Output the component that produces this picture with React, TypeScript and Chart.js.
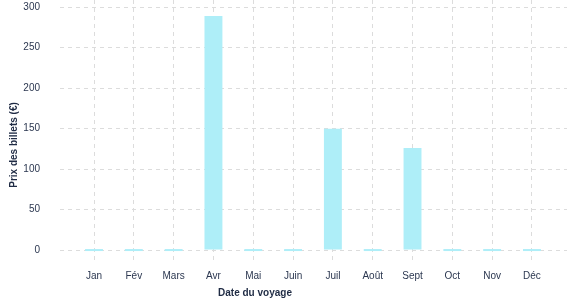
import React, { useEffect, useRef } from "react";
import { Chart, registerables } from "chart.js";

Chart.register(...registerables);

const months = ["Jan", "Fév", "Mars", "Avr", "Mai", "Juin", "Juil", "Août", "Sept", "Oct", "Nov", "Déc"];
const prices = [0, 0, 0, 289, 0, 0, 150, 0, 126, 0, 0, 0];
const yTicks = [0, 50, 100, 150, 200, 250, 300];
const xTitle = "Date du voyage";
const yTitle = "Prix des billets (€)";

const FONT = "'Liberation Sans', Arial, sans-serif";
const TEXT = "#2b3750";
const GRID = "#dcdcdc";

export default function App() {
  const ref = useRef<HTMLCanvasElement | null>(null);

  useEffect(() => {
    if (!ref.current) return;
    const titles = {
      id: "titles",
      afterDraw(chart: any) {
        const ctx = chart.ctx;
        ctx.save();
        ctx.fillStyle = "#1f2b44";
        ctx.font = `bold 10px ${FONT}`;
        ctx.textAlign = "center";
        ctx.textBaseline = "middle";
        ctx.fillText(xTitle, 255, 293);
        ctx.translate(14, 145);
        ctx.rotate(-Math.PI / 2);
        ctx.fillText(yTitle, 0, 0);
        ctx.restore();
      },
    };
    const zeroPad = (s: any) => {
      s.paddingTop = 0;
      s.paddingBottom = 0;
      s.paddingLeft = 0;
      s.paddingRight = 0;
    };
    const chart = new Chart(ref.current, {
      type: "bar",
      data: {
        datasets: [
          {
            data: prices.map((v, i) => ({ x: i, y: v })),
            backgroundColor: "#aeeef8",
            borderWidth: 0,
            minBarLength: 2,
            barPercentage: 0.5,
            categoryPercentage: 0.9,
          },
        ],
      },
      options: {
        animation: false,
        responsive: false,
        maintainAspectRatio: false,
        layout: { padding: { top: 0, right: 10, bottom: 0, left: 0 } },
        plugins: { legend: { display: false }, tooltip: { enabled: false } },
        scales: {
          x: {
            type: "linear",
            offset: false,
            min: -0.854,
            max: 11.88,
            afterBuildTicks: (s: any) => {
              s.ticks = months.map((_, i) => ({ value: i }));
            },
            afterFit: (s: any) => {
              s.height = 37;
              zeroPad(s);
            },
            ticks: {
              callback: (v: any) => months[v] ?? "",
              color: TEXT,
              font: { family: FONT, size: 10 },
              padding: 7,
              maxRotation: 0,
              autoSkip: false,
            },
            grid: { color: GRID, drawTicks: false, offset: false },
            border: { display: false, dash: [4, 4] },
          },
          y: {
            type: "linear",
            min: -16,
            max: 308.9,
            afterBuildTicks: (s: any) => {
              s.ticks = yTicks.map((v) => ({ value: v }));
            },
            afterFit: (s: any) => {
              s.width = 60;
              zeroPad(s);
            },
            ticks: {
              color: TEXT,
              font: { family: FONT, size: 10 },
              padding: 20,
            },
            grid: { color: GRID, drawTicks: false },
            border: { display: false, dash: [4, 4] },
          },
        },
      },
      plugins: [titles],
    });
    return () => chart.destroy();
  }, []);

  return (
    <div style={{ position: "absolute", left: 0, top: 0, width: 577, height: 300, background: "#fff" }}>
      <canvas ref={ref} width={577} height={300} style={{ width: 577, height: 300, display: "block" }} />
    </div>
  );
}
